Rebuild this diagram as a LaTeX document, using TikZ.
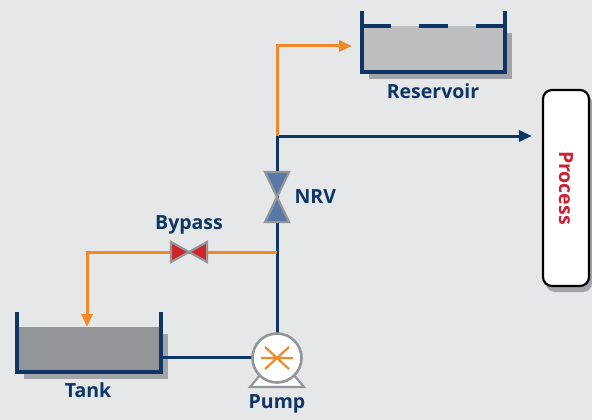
\documentclass[tikz,border=0pt]{standalone}
\usepackage{fontspec}
\setmainfont{Open Sans}
\usetikzlibrary{arrows.meta,positioning}
\definecolor{bggray}{HTML}{E6E7E8}
\definecolor{navy}{HTML}{0E3563}
\definecolor{pipeorange}{HTML}{F0892A}
\definecolor{tankgray}{HTML}{939598}
\definecolor{resgray}{HTML}{BCBEC0}
\definecolor{shadegray}{HTML}{A2A4A7}
\definecolor{valvegray}{HTML}{939598}
\definecolor{nrvblue}{HTML}{5679A8}
\definecolor{bypred}{HTML}{D3222A}
\definecolor{procred}{HTML}{CF2030}

\begin{document}
\begin{tikzpicture}[x=1pt,y=-1pt,
  pipe/.style={line width=3pt,color=navy},
  feed/.style={line width=3pt,color=pipeorange},
  wall/.style={line width=3.4pt,color=navy},
  valve/.style={draw=valvegray,line width=2.2pt,line join=miter},
  lbl/.style={font=\fontsize{19.5}{22}\selectfont\bfseries,text=navy},
  tip/.style={-{Triangle[length=13pt,width=11pt]}}]
\fill[bggray] (0,0) rectangle (592,420);

\fill[shadegray] (369,33) rectangle (512,79);
\fill[resgray] (362,26) rectangle (505,72);
\draw[wall] (362,11) -- (362,72) -- (505,72) -- (505,11);
\draw[wall] (362,26) -- (391,26) (419,26) -- (448,26) (476,26) -- (505,26);
\node[lbl] (reservoir) at (433,91) {Reservoir};
\coordinate (resin) at (352,46);

\fill[shadegray] (24,334) rectangle (168,379);
\fill[tankgray] (17,327) rectangle (161,372);
\draw[wall] (17,312) -- (17,372) -- (161,372) -- (161,312);
\node[lbl] (tank) at (88,390) {Tank};
\coordinate (tankin) at (87,327);
\coordinate (tankout) at (161,357);

\fill[shadegray, rounded corners=9pt] (546,94) rectangle (592,292);
\node[draw=black,fill=white,rounded corners=9pt,line width=2.2pt,
  minimum width=46pt,minimum height=196pt] (process) at (566,188) {};
\node[font=\fontsize{19.5}{22}\selectfont\bfseries,text=procred,rotate=-90] at (process) {Process};

\coordinate (tee) at (277,136);
\coordinate (bytee) at (277,252);
\coordinate (nrv) at (277,197);
\coordinate (byp) at (189,252);

\draw[pipe] (277,336) -- (tee);
\draw[pipe] (tankout) -- (254,357);
\draw[pipe,tip] (tee) -- ([xshift=-10pt]tee -| process.west);
\draw[feed,tip] (tee) |- (resin);
\draw[feed,tip] (bytee) -| (tankin);

\draw[valve,fill=nrvblue] (nrv) -- ++(-12,-25) -- ++(24,0) -- cycle;
\draw[valve,fill=nrvblue] (nrv) -- ++(-12,25) -- ++(24,0) -- cycle;
\node[lbl,right=14pt of nrv] (nrvlbl) {NRV};

\draw[valve,fill=bypred] (byp) -- ++(-18,-10) -- ++(0,20) -- cycle;
\draw[valve,fill=bypred] (byp) -- ++(18,-10) -- ++(0,20) -- cycle;
\node[lbl] (byplbl) at (189,225) {Bypass};

\draw[valve,fill=white] (261,374) -- (293,374) -- (304,387) -- (250,387) -- cycle;
\node[circle,draw=valvegray,fill=white,line width=2.6pt,minimum size=49pt,inner sep=0pt] (pump) at (277,358) {};
\draw[pipeorange,line width=2.2pt] (pump.center) +(-16,0) -- +(16,0)
  (pump.center) +(-12,-11) -- +(12,11) (pump.center) +(12,-11) -- +(-12,11);
\node[lbl] (pumplbl) at (277,404) {Pump};
\end{tikzpicture}
\end{document}
